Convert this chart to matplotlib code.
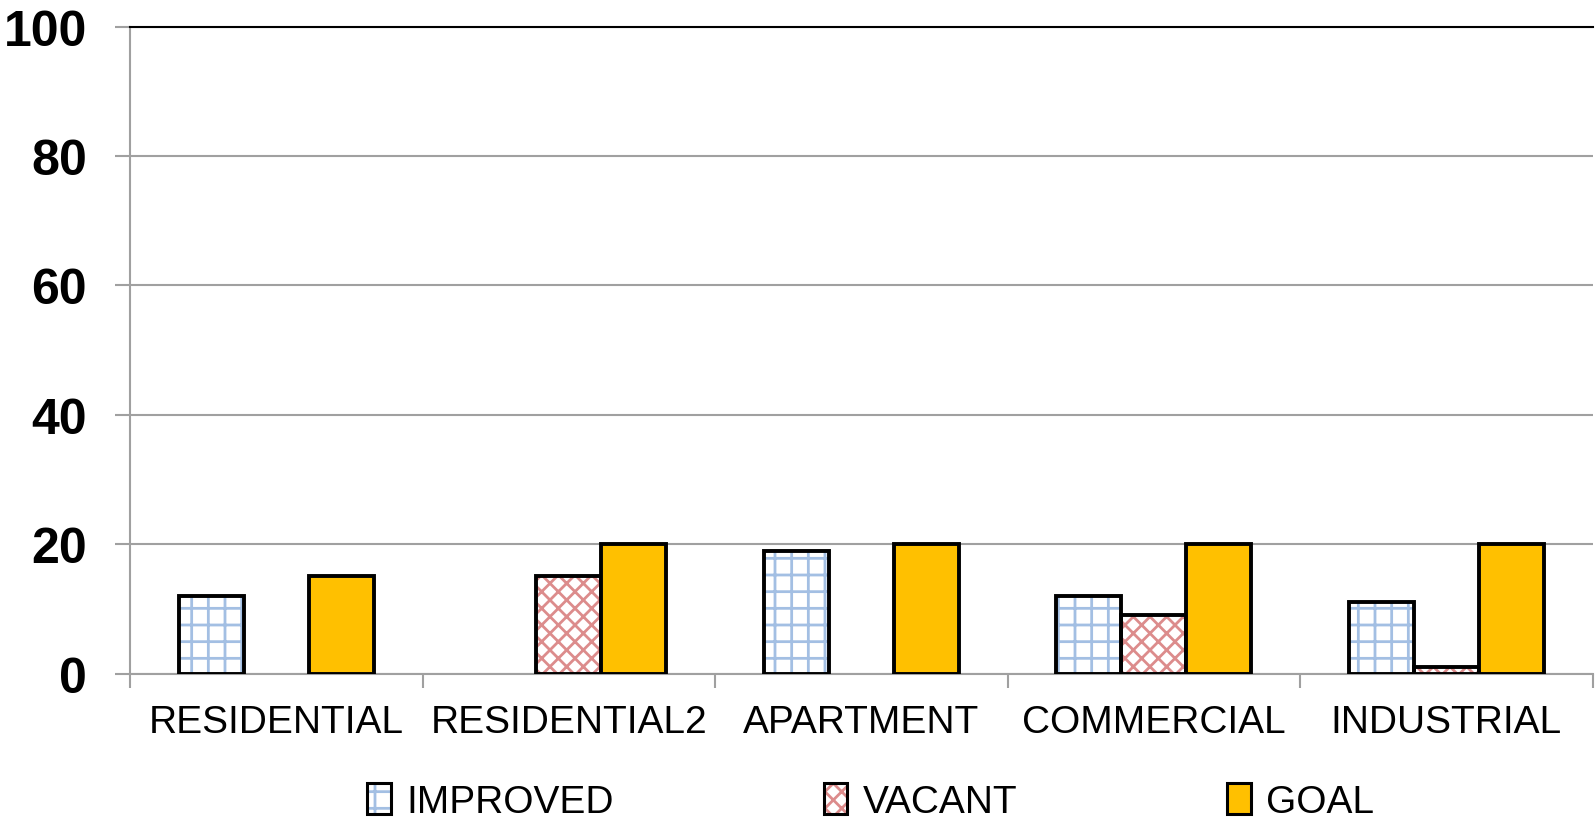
import numpy as np
import matplotlib.pyplot as plt
from matplotlib.patches import Patch

categories = ['RESIDENTIAL', 'RESIDENTIAL2', 'APARTMENT', 'COMMERCIAL', 'INDUSTRIAL']
improved = [12, 0, 19, 12, 11]
vacant = [0, 15, 0, 9, 1]
goal = [15, 20, 20, 20, 20]

plt.rcParams['font.family'] = ['Liberation Sans', 'DejaVu Sans']
plt.rcParams['hatch.linewidth'] = 2.0

fig = plt.figure(figsize=(15.95, 8.2), dpi=100)
ax = fig.add_axes([0.0815, 0.1774, 0.917, 0.789])

x = np.arange(len(categories))
w = 0.222
blue = '#a3bfe3'
red = '#dc8c8c'
gold = '#ffc000'

# hatched fills first, then black outlines on top
ax.bar(x - w, improved, w, color='white', edgecolor=blue, hatch='+', linewidth=0, zorder=2)
ax.bar(x, vacant, w, color='white', edgecolor=red, hatch='xx', linewidth=0, zorder=2)
for vals, off in [(improved, -w), (vacant, 0)]:
    xs = [xi + off for xi, v in zip(x, vals) if v > 0]
    ys = [v for v in vals if v > 0]
    ax.bar(xs, ys, w, fill=False, edgecolor='black', linewidth=2.8, zorder=3)
ax.bar(x + w, goal, w, color=gold, edgecolor='black', linewidth=2.8, zorder=3)

ax.set_xlim(-0.5, 4.5)
ax.set_ylim(0, 100)
ax.set_yticks(range(0, 101, 20))
ax.grid(axis='y', color='#a0a0a0', linewidth=1.5, zorder=0)
ax.set_axisbelow(True)

for s in ['left', 'bottom']:
    ax.spines[s].set_color('#a0a0a0')
    ax.spines[s].set_linewidth(1.5)
ax.spines['right'].set_visible(False)
ax.spines['top'].set_color('black')
ax.spines['top'].set_linewidth(1.5)

ax.set_xticks(x)
ax.set_xticklabels(categories, fontsize=28)
ax.set_xticks(np.arange(-0.5, 4.6, 1), minor=True)
ax.tick_params(axis='x', which='major', length=0, pad=22)
ax.tick_params(axis='x', which='minor', length=10, width=1.5, color='#a0a0a0', direction='out')
ax.tick_params(axis='y', length=11, width=1.5, color='#a0a0a0', labelsize=36, pad=20)
for t in ax.get_yticklabels():
    t.set_fontweight('bold')

h1 = (Patch(facecolor='white', edgecolor=blue, hatch='+', linewidth=0),
      Patch(fill=False, edgecolor='black', linewidth=2.2))
h2 = (Patch(facecolor='white', edgecolor=red, hatch='xx', linewidth=0),
      Patch(fill=False, edgecolor='black', linewidth=2.2))
h3 = Patch(facecolor=gold, edgecolor='black', linewidth=2.2)
fig.legend([h1, h2, h3], ['IMPROVED', 'VACANT', 'GOAL'], ncol=3, loc='center',
           bbox_to_anchor=(0.546, 0.021), frameon=False, fontsize=28,
           handlelength=0.6, handleheight=0.85, handletextpad=0.4, columnspacing=5.4)

fig.savefig('out.png', dpi=100)
